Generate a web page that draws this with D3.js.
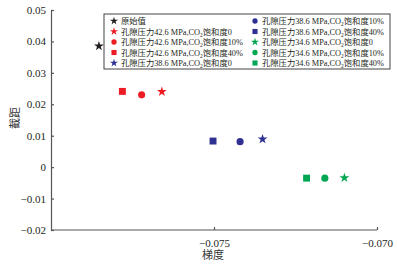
<!DOCTYPE html>
<html><head><meta charset="utf-8">
<script src="https://cdn.jsdelivr.net/npm/d3@7"></script>
<style>body{margin:0;background:#fff}svg{display:block}</style>
</head><body>
<svg id="c" width="397" height="264"></svg>
<script>
// data
const seriesNames = ["原始值",
  "孔隙压力42.6 MPa,CO|2|饱和度0","孔隙压力42.6 MPa,CO|2|饱和度10%","孔隙压力42.6 MPa,CO|2|饱和度40%",
  "孔隙压力38.6 MPa,CO|2|饱和度0","孔隙压力38.6 MPa,CO|2|饱和度10%","孔隙压力38.6 MPa,CO|2|饱和度40%",
  "孔隙压力34.6 MPa,CO|2|饱和度0","孔隙压力34.6 MPa,CO|2|饱和度10%","孔隙压力34.6 MPa,CO|2|饱和度40%"];
const seriesShapes = ["star","star","circle","square","star","circle","square","star","circle","square"];
const seriesColors = ["#231f20","#ed1c24","#ed1c24","#ed1c24","#2e3192","#2e3192","#2e3192","#00a651","#00a651","#00a651"];
const gradient = [-0.07853,-0.07660,-0.07722,-0.07781,-0.07351,-0.07420,-0.07503,-0.07100,-0.07160,-0.07216];
const intercept = [0.0385,0.0240,0.0230,0.0241,0.0089,0.0081,0.0083,-0.0034,-0.0035,-0.0035];
const xTicks = [-0.075,-0.070];
const yTicks = [0.05,0.04,0.03,0.02,0.01,0,-0.01,-0.02];
const xLabel = "梯度", yLabel = "截距";

const svg = d3.select("#c");
const x = d3.scaleLinear().domain([-0.08,-0.07]).range([51,377]);
const y = d3.scaleLinear().domain([-0.02,0.05]).range([230,10]);
const serif = "'Liberation Serif','DejaVu Serif',serif";
const cjk = "'Liberation Serif','Noto Sans CJK SC',serif";
const axisColor = "#555";

const fmtY = d => d===0 ? "0" : d3.format(".2f")(d);
const gy = svg.append("g").attr("transform","translate(51,0)")
  .call(d3.axisLeft(y).tickValues(yTicks).tickSizeInner(-3).tickSizeOuter(0).tickPadding(5).tickFormat(fmtY));
const gx = svg.append("g").attr("transform","translate(0,230)")
  .call(d3.axisBottom(x).tickValues(xTicks).tickSizeInner(-3).tickSizeOuter(0).tickPadding(9).tickFormat(d3.format(".3f")));
[gx,gy].forEach(g=>{
  g.selectAll("path,line").attr("stroke",axisColor).attr("stroke-width",1.2);
  g.selectAll("text").attr("fill","#231f20").style("font-family",serif).style("font-size","11px");
});
gx.select(".domain").attr("d","M51,0H377");

svg.append("text").attr("x",213).attr("y",259).attr("text-anchor","middle")
  .style("font-family",cjk).style("font-size","11px").attr("fill","#333").text(xLabel);
svg.append("text").attr("transform","translate(19,118) rotate(-90)").attr("text-anchor","middle")
  .style("font-family",cjk).style("font-size","11px").attr("fill","#333").text(yLabel);

const symType = {star:d3.symbolStar, circle:d3.symbolCircle, square:d3.symbolSquare};
const symSize = {star:30, circle:40, square:48};
const legSize = {star:20, circle:22, square:26};

svg.append("g").selectAll("path").data(gradient).join("path")
  .attr("transform",(d,i)=>`translate(${x(d)},${y(intercept[i])})`)
  .attr("d",(d,i)=>d3.symbol().type(symType[seriesShapes[i]]).size(symSize[seriesShapes[i]])())
  .attr("fill",(d,i)=>seriesColors[i]);

// legend
const leg = svg.append("g");
leg.append("rect").attr("x",104).attr("y",14).attr("width",286).attr("height",55)
  .attr("fill","#fff").attr("stroke","#444").attr("stroke-width",1);
seriesNames.forEach((name,i)=>{
  const col = i<5?0:1, row = i%5;
  const mx = col===0?114:255, my = 21+row*10.5;
  leg.append("path").attr("transform",`translate(${mx},${my})`)
    .attr("d",d3.symbol().type(symType[seriesShapes[i]]).size(legSize[seriesShapes[i]])())
    .attr("fill",seriesColors[i]);
  const parts = name.split("|");
  const t = leg.append("text").attr("x",mx+7).attr("y",my+3)
    .style("font-family",cjk).style("font-size","8.3px").attr("fill","#231f20");
  t.append("tspan").text(parts[0]);
  if(parts.length>1){
    t.append("tspan").attr("dy",2).style("font-size","5.5px").text(parts[1]);
    t.append("tspan").attr("dy",-2).text(parts[2]);
  }
});
</script>
</body></html>
